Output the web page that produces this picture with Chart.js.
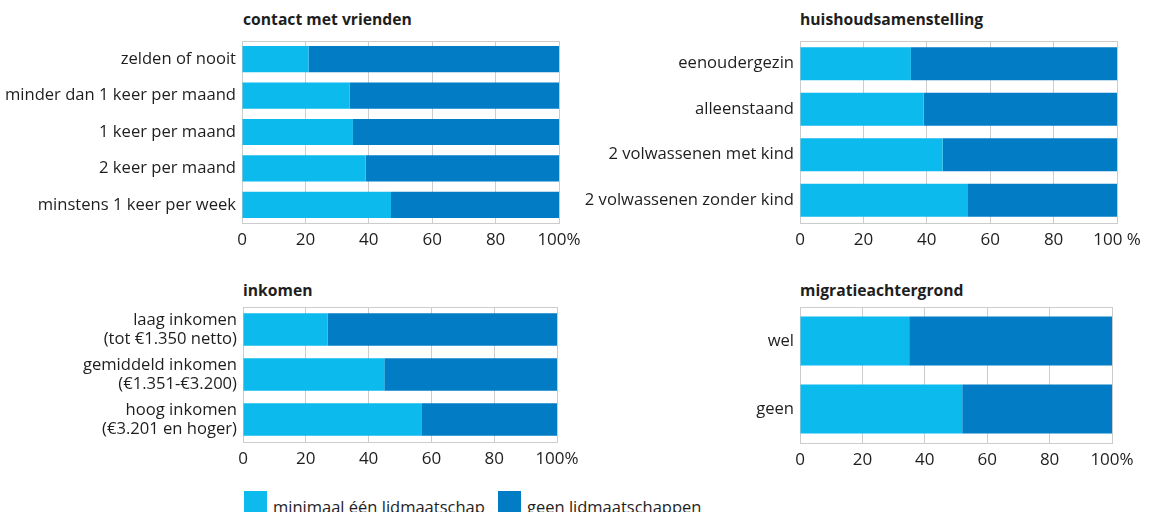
<!DOCTYPE html>
<html>
<head>
<meta charset="utf-8">
<script src="https://cdn.jsdelivr.net/npm/chart.js@4.4.1/dist/chart.umd.min.js"></script>
<style>
    html, body { margin: 0; padding: 0; background: #fff; }
    body { width: 1149px; height: 512px; position: relative; overflow: hidden; font-family: 'Open Sans', sans-serif; color: #1e1e1e; }
    .box { position: absolute; }
    .title { position: absolute; font-weight: bold; font-size: 15.7px; line-height: 16px; white-space: nowrap; }
    .legend { position: absolute; top: 491px; font-size: 16.5px; white-space: nowrap; }
    .swatch { position: absolute; width: 23px; height: 23px; top: 0; }
    .legend span { position: absolute; top: 8px; line-height: 16px; }
</style>
</head>
<body>
<div class="title" style="left:243px; top:11px;">contact met vrienden</div>
<div class="title" style="left:800px; top:11px;">huishoudsamenstelling</div>
<div class="title" style="left:243px; top:282px;">inkomen</div>
<div class="title" style="left:800px; top:282px;">migratieachtergrond</div>

<div class="box" style="left:0; top:30px; width:600px; height:230px;"><canvas id="contact"></canvas></div>
<div class="box" style="left:560px; top:30px; width:589px; height:230px;"><canvas id="huishouden"></canvas></div>
<div class="box" style="left:0; top:296px; width:600px; height:190px;"><canvas id="inkomen"></canvas></div>
<div class="box" style="left:560px; top:296px; width:589px; height:190px;"><canvas id="migratie"></canvas></div>

<div class="legend" style="left:244px;">
    <div class="swatch" style="left:0; background:#0dbaed;"></div><span style="left:29px;">minimaal één lidmaatschap</span>
    <div class="swatch" style="left:254px; background:#027cc5;"></div><span style="left:283px;">geen lidmaatschappen</span>
</div>

<script>
const seriesNames = ['minimaal één lidmaatschap', 'geen lidmaatschappen'];
const xTicks = [0, 20, 40, 60, 80, 100];

const contactLabels = ['zelden of nooit', 'minder dan 1 keer per maand', '1 keer per maand', '2 keer per maand', 'minstens 1 keer per week'];
const contactMinimaal = [21, 34, 35, 39, 47];
const contactGeen = [79, 66, 65, 61, 53];

const huishoudenLabels = ['eenoudergezin', 'alleenstaand', '2 volwassenen met kind', '2 volwassenen zonder kind'];
const huishoudenMinimaal = [35, 39, 45, 53];
const huishoudenGeen = [65, 61, 55, 47];

const inkomenLabels = [
    ['laag inkomen', '(tot €1.350 netto)'],
    ['gemiddeld inkomen', '(€1.351-€3.200)'],
    ['hoog inkomen', '(€3.201 en hoger)'],
];
const inkomenMinimaal = [27, 45, 57];
const inkomenGeen = [73, 55, 43];

const migratieLabels = ['wel', 'geen'];
const migratieMinimaal = [35, 52];
const migratieGeen = [65, 48];

const colors = ['#0dbaed', '#027cc5'];
const gridColor = '#cccccc';
const textColor = '#1e1e1e';

Chart.defaults.font.family = "'Open Sans', sans-serif";
Chart.defaults.color = textColor;

// top border of the plot area
const framePlugin = {
    id: 'frame',
    afterDatasetsDraw(chart) {
        const { ctx, chartArea } = chart;
        ctx.save();
        ctx.strokeStyle = gridColor;
        ctx.lineWidth = 1;
        ctx.beginPath();
        ctx.moveTo(chartArea.left, chartArea.top + 0.5);
        ctx.lineTo(chartArea.right, chartArea.top + 0.5);
        ctx.stroke();
        ctx.restore();
    },
};

function makeChart(id, labels, minimaal, geen, geo, lastTick) {
    const ctx = document.getElementById(id).getContext('2d');
    return new Chart(ctx, {
        type: 'bar',
        data: {
            labels: labels,
            datasets: [
                { label: seriesNames[0], data: minimaal, backgroundColor: colors[0] },
                { label: seriesNames[1], data: geen, backgroundColor: colors[1] },
            ],
        },
        options: {
            indexAxis: 'y',
            responsive: true,
            maintainAspectRatio: false,
            animation: false,
            datasets: { bar: { barPercentage: 1, categoryPercentage: 0.72 } },
            layout: {
                padding: { left: 0, top: geo.plotTop - geo.top, right: geo.width - (geo.plotRight - geo.left), bottom: 0 },
            },
            scales: {
                x: {
                    stacked: true,
                    min: 0,
                    max: 100,
                    afterBuildTicks: (scale) => {
                        scale.ticks = xTicks.map((v) => ({ value: v }));
                    },
                    afterFit: (scale) => {
                        scale.height = geo.top + geo.height - geo.plotBottom;
                        scale.paddingLeft = 0;
                        scale.paddingRight = 0;
                    },
                    grid: { color: gridColor, drawTicks: false },
                    border: { color: gridColor },
                    ticks: {
                        padding: 7,
                        maxRotation: 0,
                        font: { size: 17 },
                        color: textColor,
                        callback: (value) => (value === 100 ? lastTick : value),
                    },
                },
                y: {
                    stacked: true,
                    afterFit: (scale) => {
                        scale.width = geo.plotLeft - geo.left;
                        scale.paddingTop = 0;
                        scale.paddingBottom = 0;
                    },
                    grid: { display: false, drawTicks: false },
                    border: { color: gridColor },
                    ticks: { autoSkip: false, padding: 6, font: { size: 16.6, lineHeight: 1.15 }, color: textColor },
                },
            },
            plugins: {
                legend: { display: false },
                tooltip: { enabled: false },
            },
        },
        plugins: [framePlugin],
    });
}

function init() {
    makeChart('contact', contactLabels, contactMinimaal, contactGeen,
        { left: 0, top: 30, width: 600, height: 230, plotLeft: 242, plotTop: 41, plotRight: 559, plotBottom: 223 }, '100%');
    makeChart('huishouden', huishoudenLabels, huishoudenMinimaal, huishoudenGeen,
        { left: 560, top: 30, width: 589, height: 230, plotLeft: 800, plotTop: 41, plotRight: 1117, plotBottom: 223 }, '100 %');
    makeChart('inkomen', inkomenLabels, inkomenMinimaal, inkomenGeen,
        { left: 0, top: 296, width: 600, height: 190, plotLeft: 243, plotTop: 307, plotRight: 557, plotBottom: 442 }, '100%');
    makeChart('migratie', migratieLabels, migratieMinimaal, migratieGeen,
        { left: 560, top: 296, width: 589, height: 190, plotLeft: 800, plotTop: 307, plotRight: 1112, plotBottom: 443 }, '100%');
}

document.addEventListener('DOMContentLoaded', init);
</script>
</body>
</html>
